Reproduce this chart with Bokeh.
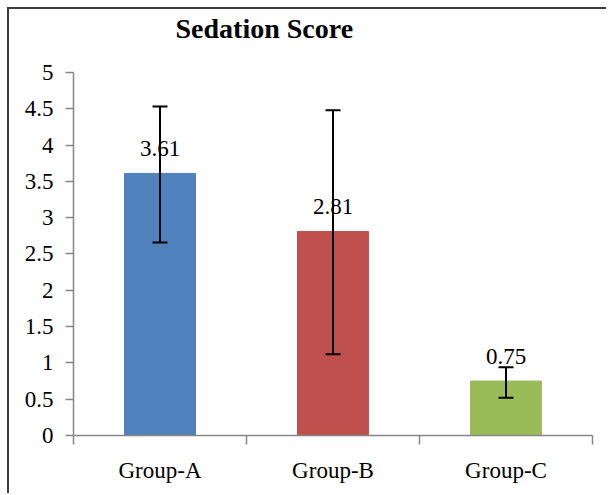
from bokeh.plotting import figure
from bokeh.models import (ColumnDataSource, Range1d, FixedTicker, Whisker, TeeHead,
                          LabelSet, Label)
from bokeh.embed import file_html
from bokeh.resources import INLINE

# ---- data ----
groups = ["Group-A", "Group-B", "Group-C"]
means = [3.61, 2.81, 0.75]
err_upper = [4.53, 4.48, 0.94]
err_lower = [2.66, 1.12, 0.52]
bar_colors = ["#4F81BD", "#C0504D", "#9BBB59"]
value_labels = ["3.61", "2.81", "0.75"]
y_ticks = [0, 0.5, 1, 1.5, 2, 2.5, 3, 3.5, 4, 4.5, 5]
y_tick_labels = ["0", "0.5", "1", "1.5", "2", "2.5", "3", "3.5", "4", "4.5", "5"]
title_text = "Sedation Score"

FONT = "Liberation Serif"
W, H = 599, 486
Y_MAX = 5
# frame extends above the axis top so the title can sit inside it
Y_END = 5.84
TITLE_Y = 5.61

xpos = [i + 0.5 for i in range(len(groups))]
src = ColumnDataSource(dict(x=xpos, top=means, upper=err_upper, lower=err_lower,
                            color=bar_colors, label=value_labels))

p = figure(width=W, height=H, output_backend="svg", toolbar_location=None,
           title=None,
           x_range=Range1d(0, len(groups)), y_range=Range1d(0, Y_END),
           min_border_left=64, min_border_right=16, min_border_top=2,
           min_border_bottom=60)
p.styles = {"margin-left": "7px", "margin-top": "7px",
            "border-left": "2px solid #3c3c3c", "border-top": "2px solid #3c3c3c"}

title = Label(x=0, y=TITLE_Y, x_offset=102, text=title_text,
              text_align="left", text_baseline="middle", text_font=FONT,
              text_font_size="28px", text_font_style="bold", text_color="#000000")
p.add_layout(title)

p.outline_line_color = None
p.xgrid.grid_line_color = None
p.ygrid.grid_line_color = None
p.background_fill_color = "white"
p.border_fill_color = "white"

p.vbar(x="x", top="top", width=0.41, bottom=0, source=src,
       fill_color="color", line_color="color")

labels = LabelSet(x="x", y="top", text="label", source=src, y_offset=25,
                  text_align="center", text_baseline="middle",
                  text_font=FONT, text_font_size="23px", text_color="#000000")
p.add_layout(labels)

whisk = Whisker(source=src, base="x", upper="upper", lower="lower",
                line_color="black", line_width=2, level="overlay",
                upper_head=TeeHead(size=15, line_color="black", line_width=2),
                lower_head=TeeHead(size=15, line_color="black", line_width=2))
p.add_layout(whisk)

# y axis
ya = p.yaxis[0]
ya.bounds = (0, Y_MAX)
ya.ticker = FixedTicker(ticks=y_ticks)
ya.major_label_overrides = {t: s for t, s in zip(y_ticks, y_tick_labels)}
ya.axis_line_color = "#868686"
ya.axis_line_width = 1.5
ya.major_tick_line_color = "#868686"
ya.major_tick_line_width = 1.5
ya.major_tick_out = 8
ya.major_tick_in = 0
ya.minor_tick_line_color = None
ya.major_label_standoff = 12
ya.major_label_text_font = FONT
ya.major_label_text_font_size = "23px"
ya.major_label_text_color = "#000000"

# x axis
xa = p.xaxis[0]
xa.ticker = FixedTicker(ticks=xpos, minor_ticks=list(range(len(groups) + 1)))
xa.major_label_overrides = {x: g for x, g in zip(xpos, groups)}
xa.axis_line_color = "#868686"
xa.axis_line_width = 1.5
xa.major_tick_line_color = None
xa.major_tick_out = 0
xa.major_tick_in = 0
xa.minor_tick_line_color = "#868686"
xa.minor_tick_line_width = 1.5
xa.minor_tick_out = 9
xa.minor_tick_in = 0
xa.major_label_standoff = 13
xa.major_label_text_font = FONT
xa.major_label_text_font_size = "23px"
xa.major_label_text_color = "#000000"

open("out.html", "w").write(file_html(p, INLINE))
